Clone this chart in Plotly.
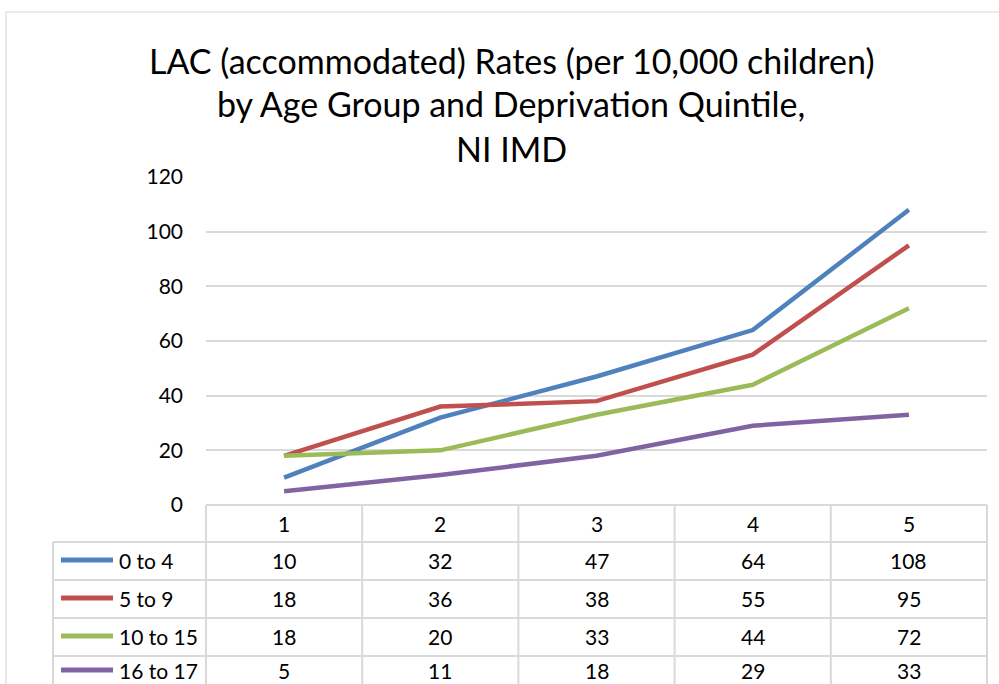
import plotly.graph_objects as go

categories = [1, 2, 3, 4, 5]
series_names = ["0 to 4", "5 to 9", "10 to 15", "16 to 17"]
s_0_4 = [10, 32, 47, 64, 108]
s_5_9 = [18, 36, 38, 55, 95]
s_10_15 = [18, 20, 33, 44, 72]
s_16_17 = [5, 11, 18, 29, 33]
series_values = [s_0_4, s_5_9, s_10_15, s_16_17]
colors = ["#4F81BD", "#C0504D", "#9BBB59", "#8064A2"]
title_lines = ["LAC (accommodated) Rates (per 10,000 children)",
               "by Age Group and Deprivation Quintile,",
               "NI IMD"]

W, H = 999, 684
PL, PR, PT, PB = 206, 987, 177, 505
FONT = "Lato"
FS = 21


def px(x):
    return (x - PL) / (PR - PL)


def py(y):
    return (PB - y) / (PB - PT)


fig = go.Figure()
for name, vals, col in zip(series_names, series_values, colors):
    fig.add_trace(go.Scatter(x=categories, y=vals, mode="lines", name=name,
                             line=dict(color=col, width=4.5),
                             showlegend=False, hoverinfo="skip"))

grid = "#d9d9d9"
shapes = []
# outer chart border
shapes.append(dict(type="rect", xref="paper", yref="paper",
                   x0=px(6), x1=px(1010), y0=py(700), y1=py(12),
                   line=dict(color="#d9d9d9", width=1.2)))
# table horizontal lines
row_lines = [505, 542, 580, 618, 656]
for i, yl in enumerate(row_lines):
    shapes.append(dict(type="line", xref="paper", yref="paper",
                       x0=px(206 if i == 0 else 53), x1=px(987),
                       y0=py(yl), y1=py(yl),
                       line=dict(color=grid, width=2)))
# vertical lines
n = len(categories)
for k in range(n + 1):
    shapes.append(dict(type="line", xref="paper", yref="paper",
                       x0=k / n, x1=k / n, y0=py(505), y1=py(700),
                       line=dict(color=grid, width=2)))
shapes.append(dict(type="line", xref="paper", yref="paper",
                   x0=px(53), x1=px(53), y0=py(542), y1=py(700),
                   line=dict(color=grid, width=2)))

annotations = []
title_y = [61, 104, 148]
for t, yy in zip(title_lines, title_y):
    annotations.append(dict(text=t, xref="paper", yref="paper",
                            x=px(511), y=py(yy), xanchor="center",
                            yanchor="middle", showarrow=False,
                            font=dict(family=FONT, size=34, color="#000")))

# header row
header_c = 523
for c in categories:
    annotations.append(dict(text=str(c), xref="x", yref="paper", x=c,
                            y=py(header_c), showarrow=False,
                            xanchor="center", yanchor="middle",
                            font=dict(family=FONT, size=FS, color="#000")))
row_centers = [560, 598, 636, 670]
for name, vals, col, rc in zip(series_names, series_values, colors, row_centers):
    shapes.append(dict(type="line", xref="paper", yref="paper",
                       x0=px(61), x1=px(113), y0=py(rc), y1=py(rc),
                       line=dict(color=col, width=5)))
    annotations.append(dict(text=name, xref="paper", yref="paper", x=px(117),
                            y=py(rc), showarrow=False, xanchor="left",
                            yanchor="middle",
                            font=dict(family=FONT, size=FS, color="#000")))
    for c, v in zip(categories, vals):
        annotations.append(dict(text=str(v), xref="x", yref="paper", x=c,
                                y=py(rc), showarrow=False, xanchor="center",
                                yanchor="middle",
                                font=dict(family=FONT, size=FS, color="#000")))

fig.update_layout(
    width=W, height=H, autosize=False,
    margin=dict(l=PL, r=W - PR, t=PT, b=H - PB),
    paper_bgcolor="white", plot_bgcolor="white",
    shapes=shapes, annotations=annotations,
    xaxis=dict(range=[0.5, 5.5], showticklabels=False, showgrid=False,
               zeroline=False, showline=False, fixedrange=True),
    yaxis=dict(range=[0, 120], dtick=20, showgrid=True, gridcolor=grid,
               gridwidth=1.5, zeroline=False, showline=False,
               ticklabelstandoff=22,
               tickfont=dict(family=FONT, size=FS, color="#000"),
               fixedrange=True),
)

fig.write_html("out.html", config={"displayModeBar": False},
               post_script="document.body.style.margin='0px';"
                           "document.body.style.overflow='hidden';")
